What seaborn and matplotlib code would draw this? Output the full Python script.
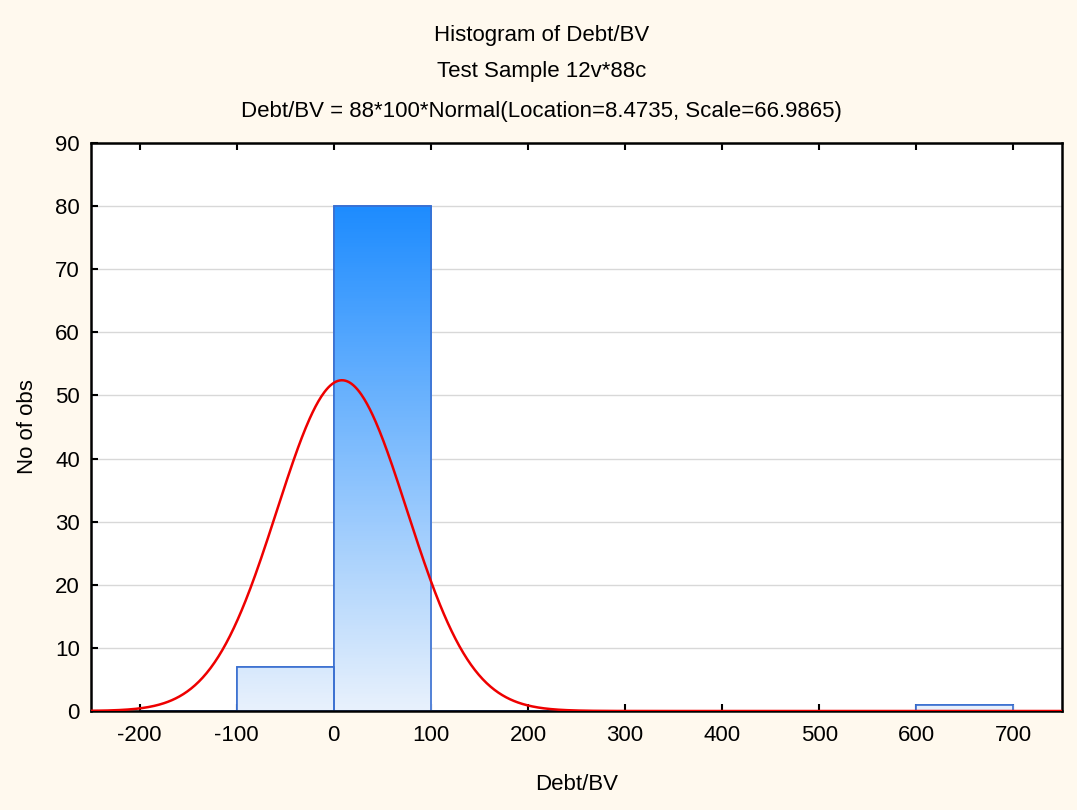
import numpy as np
import pandas as pd
import matplotlib
matplotlib.use("Agg")
import matplotlib.pyplot as plt
import seaborn as sns
from matplotlib.colors import LinearSegmentedColormap

# Data
bin_edges = [-200, -100, 0, 100, 200, 300, 400, 500, 600, 700]
counts = [0, 7, 80, 0, 0, 0, 0, 0, 1]
n_obs = 88
loc, scale = 8.4735, 66.9865
x_ticks = [-200, -100, 0, 100, 200, 300, 400, 500, 600, 700]
y_ticks = [0, 10, 20, 30, 40, 50, 60, 70, 80, 90]

sns.set_theme(style="white")
plt.rcParams['font.family'] = ['Liberation Sans', 'DejaVu Sans']
plt.rcParams['axes.unicode_minus'] = False
plt.rcParams['text.color'] = 'black'
plt.rcParams['axes.labelcolor'] = 'black'
plt.rcParams['xtick.color'] = 'black'
plt.rcParams['ytick.color'] = 'black'

bg = "#FFF9EE"
fig = plt.figure(figsize=(10.77, 8.10), dpi=100, facecolor=bg)
ax = fig.add_axes([91/1077, 1-711/810, (1062-91)/1077, (711-143)/810])
ax.set_facecolor("white")

centers = [(a + b) / 2 for a, b in zip(bin_edges[:-1], bin_edges[1:])]
df = pd.DataFrame({"x": centers, "w": counts})
sns.histplot(data=df, x="x", weights="w", bins=bin_edges, ax=ax,
             color="#dceaf8", edgecolor="#3a6fd0", linewidth=1.2, alpha=1, zorder=2)

ax.set_xlim(-250, 750)
ax.set_ylim(0, 90)

# gradient fill clipped to bars
cmap = LinearSegmentedColormap.from_list("g", ["#e8f1fc", "#1E8CFF"])
grad = np.linspace(0, 1, 256).reshape(-1, 1) * (90/80)
for p in list(ax.patches):
    im = ax.imshow(grad, extent=[-250, 750, 0, 90], origin="lower", aspect="auto",
                   cmap=cmap, vmin=0, vmax=1, zorder=2.1)
    im.set_clip_path(p)
    ex = plt.Rectangle(p.get_xy(), p.get_width(), p.get_height(), fill=False,
                       edgecolor="#3a6fd0", linewidth=1.2, zorder=2.2)
    ax.add_patch(ex)
ax.set_xlim(-250, 750)
ax.set_ylim(0, 90)

# Normal fit curve
xs = np.linspace(-250, 750, 1000)
ys = n_obs * 100 * np.exp(-0.5 * ((xs - loc) / scale) ** 2) / (scale * np.sqrt(2 * np.pi))
sns.lineplot(x=xs, y=ys, ax=ax, color="#EE0000", linewidth=1.8, zorder=3)

ax.set_xticks(x_ticks)
ax.set_yticks(y_ticks)
ax.yaxis.grid(True, color="#d8d8d8", linewidth=1)
ax.set_axisbelow(True)
ax.tick_params(axis="both", direction="in", length=5, width=1.5, color="black",
               labelsize=16, labelcolor="black", top=True, bottom=True, left=True,
               right=False, pad=10)
ax.tick_params(axis="y", pad=8)
for s in ax.spines.values():
    s.set_color("black")
    s.set_linewidth(1.8)

ax.set_xlabel("Debt/BV", fontsize=16, labelpad=20, color="black")
ax.set_ylabel("No of obs", fontsize=16, labelpad=12, color="black")

fig.text(0.5025, 1-35/810, "Histogram of Debt/BV", ha="center", va="center", fontsize=16)
fig.text(0.5025, 1-72/810, "Test Sample 12v*88c", ha="center", va="center", fontsize=16)
fig.text(0.5025, 1-111/810, "Debt/BV = 88*100*Normal(Location=8.4735, Scale=66.9865)",
         ha="center", va="center", fontsize=16)

fig.savefig("out.png", dpi=100, facecolor=bg)
